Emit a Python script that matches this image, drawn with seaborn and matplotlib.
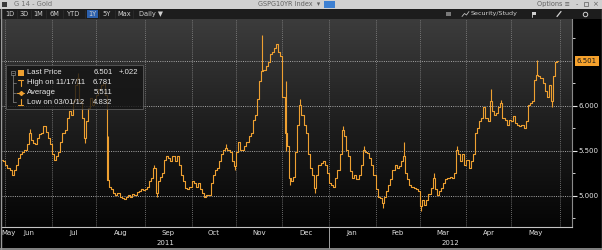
import matplotlib
matplotlib.use("Agg")
import numpy as np
import pandas as pd
import matplotlib.pyplot as plt
from matplotlib.patches import Rectangle
from matplotlib.colors import LinearSegmentedColormap
import seaborn as sns

sns.set_theme(style="dark")
plt.rcParams['font.family'] = ['DejaVu Sans']

# ---------------- data (daily closes, GSPG10YR Index) ----------------
may11 = [5.40, 5.38]
jun11 = [5.34, 5.31, 5.29, 5.23, 5.29, 5.34, 5.42, 5.46, 5.49, 5.51, 5.57,
         5.70, 5.62, 5.59, 5.57, 5.64, 5.68, 5.70, 5.77, 5.71, 5.64, 5.57]
jul11 = [5.46, 5.40, 5.44, 5.49, 5.60, 5.70, 5.73, 5.86, 5.94, 5.90, 6.05,
         6.23, 6.31, 6.05, 5.86, 5.64, 5.83, 5.97, 6.09, 6.01, 6.07]
aug11 = [6.12, 6.18, 6.23, 6.25, 6.12, 5.17, 5.10, 5.07, 5.03, 5.01, 5.03,
         4.99, 4.97, 4.96, 4.99, 5.01, 4.99, 5.02, 5.01, 5.04, 5.05, 5.07, 5.06]
sep11 = [5.07, 5.10, 5.16, 5.20, 5.31, 5.03, 5.16, 5.21, 5.25, 5.40, 5.44,
         5.42, 5.38, 5.44, 5.38, 5.44, 5.34, 5.23, 5.16, 5.09, 5.07, 5.10]
oct11 = [5.16, 5.14, 5.10, 5.14, 5.07, 5.03, 4.99, 5.01, 5.01, 5.14, 5.23,
         5.29, 5.31, 5.38, 5.46, 5.51, 5.53, 5.51, 5.49, 5.38, 5.33]
nov11 = [5.49, 5.60, 5.51, 5.51, 5.55, 5.60, 5.66, 5.70, 5.84, 5.90, 6.07,
         6.27, 6.38, 6.40, 6.44, 6.49, 6.57, 6.60, 6.64, 6.68, 6.60, 6.55]
dec11 = [6.10, 5.70, 5.55, 5.20, 5.16, 5.21, 5.49, 5.79, 6.01, 5.90, 5.79,
         5.70, 5.46, 5.31, 5.23, 5.09, 5.23, 5.34, 5.36, 5.38, 5.34, 5.25]
jan12 = [5.14, 5.12, 5.10, 5.20, 5.29, 5.46, 5.73, 5.66, 5.51, 5.44, 5.27,
         5.20, 5.23, 5.18, 5.23, 5.34, 5.51, 5.49, 5.47, 5.42, 5.34, 5.23]
feb12 = [5.07, 4.99, 4.97, 4.92, 4.99, 5.05, 5.12, 5.18, 5.29, 5.34, 5.31,
         5.33, 5.38, 5.44, 5.25, 5.18, 5.12, 5.10, 5.09, 5.07, 5.05]
mar12 = [4.88, 4.95, 4.90, 4.95, 5.02, 5.09, 5.20, 5.07, 5.01, 5.05, 5.09,
         5.14, 5.18, 5.20, 5.21, 5.20, 5.25, 5.51, 5.46, 5.38, 5.46, 5.34]
apr12 = [5.40, 5.31, 5.38, 5.46, 5.70, 5.75, 5.83, 5.86, 5.99, 5.86, 5.83,
         6.05, 5.94, 5.90, 5.92, 5.99, 6.03, 5.86, 5.84, 5.79, 5.84]
may12 = [5.83, 5.88, 5.81, 5.79, 5.77, 5.79, 5.75, 5.83, 6.01, 6.03, 6.05,
         6.29, 6.34, 6.33, 6.31, 6.25, 6.16, 6.10, 6.23, 6.05, 6.33, 6.48, 6.50]

# intraday extremes that stick out of the close-to-close steps (day index -> value)
spike_day = [13, 36, 39, 50, 72, 73, 106, 110, 123, 134, 134, 136, 141, 148,
             161, 171, 180, 190, 198, 204, 215, 231, 236, 253, 260]
spike_val = [5.74, 6.36, 5.58, 5.66, 5.34, 4.99, 5.57, 5.29, 6.781, 6.27, 5.50,
             5.12, 6.07, 5.03, 5.77, 5.55, 4.86, 5.60, 4.832, 5.25, 5.55, 6.18,
             6.06, 6.51, 5.99]

legend_rows = ["Last Price", "High on 11/17/11", "Average", "Low on 03/01/12"]
legend_vals = ["6.501", "6.781", "5.511", "4.832"]
last_change = "+.022"
last_label = "6.501"
y_ticks = [5.0, 5.5, 6.0]
y_minor = [4.75, 5.25, 5.75, 6.25, 6.75]
buttons = ['1D', '3D', '1M', '6M', 'YTD', '1Y', '5Y', 'Max', 'Daily \u25BC']

close = np.array(may11 + jun11 + jul11 + aug11 + sep11 + oct11 + nov11 +
                 dec11 + jan12 + feb12 + mar12 + apr12 + may12)
dates = pd.bdate_range("2011-05-30", "2012-05-31")
n = min(len(close), len(dates))
close = close[:n]
dates = dates[:n]
idx = np.arange(n)
df = pd.DataFrame({"i": idx, "close": close})

ORANGE = '#eea031'
W, H = 602, 250
fig = plt.figure(figsize=(W / 100, H / 100), dpi=100)
fig.patch.set_facecolor('black')

AX_L, AX_R, AX_T, AX_B = 1, 572, 19, 227
ax = fig.add_axes([AX_L / W, 1 - AX_B / H, (AX_R - AX_L) / W, (AX_B - AX_T) / H])
XMIN, XMAX = -0.57, 269.4
YMIN, YMAX = 4.652, 6.963


def px(i):
    return AX_L + (i - XMIN) / (XMAX - XMIN) * (AX_R - AX_L)


def py(v):
    return AX_B - (v - YMIN) / (YMAX - YMIN) * (AX_B - AX_T)


# gradient background
grad = np.linspace(0, 1, 256).reshape(-1, 1)
cmap = LinearSegmentedColormap.from_list('bg', ['#3c3c3c', '#1e1e1e', '#050505'])
ax.imshow(grad, extent=(XMIN, XMAX, YMIN, YMAX), origin='upper', aspect='auto',
          cmap=cmap, zorder=0)

# grid
for v in [5.0, 5.5, 6.0, 6.5]:
    ax.axhline(v, color='#a8a8a8', lw=0.7, ls=(0, (1, 1.3)), zorder=1)
months = sorted(set(zip(dates.year, dates.month)))
month_first = [int(np.where((dates.year == y) & (dates.month == m))[0][0])
               for (y, m) in months]
bounds = [f - 0.5 for f in month_first[1:]] + [n - 0.5]
for b in bounds:
    ax.axvline(b, color='#8c8c8c', lw=0.6, ls=(0, (1, 1.5)), zorder=1)

# price series
sns.lineplot(data=df, x='i', y='close', drawstyle='steps-mid', color=ORANGE,
             lw=0.8, estimator=None, legend=False, ax=ax, zorder=3)
sd = np.array(spike_day)
sv = np.array(spike_val)
ax.vlines(sd, close[sd], sv, color=ORANGE, lw=0.8, zorder=3)

ax.set_xlim(XMIN, XMAX)
ax.set_ylim(YMIN, YMAX)
ax.set_xlabel('')
ax.set_ylabel('')
ax.grid(False)
ax.set_xticks([])
ax.yaxis.tick_right()
ax.set_yticks(y_ticks)
ax.set_yticklabels([f"{t:.3f}" for t in y_ticks])
ax.set_yticks(y_minor, minor=True)
ax.tick_params(axis='y', which='major', colors='#e6e6e6', length=3.5, width=0.8,
               labelsize=5, pad=1.5, right=True, left=False)
ax.tick_params(axis='y', which='minor', colors='#cfcfcf', length=2, width=0.7,
               right=True, left=False)
for s in ['top', 'left']:
    ax.spines[s].set_visible(False)
ax.spines['bottom'].set_color('#c4c4c4')
ax.spines['bottom'].set_linewidth(0.8)
ax.spines['right'].set_color('#8a8a8a')
ax.spines['right'].set_linewidth(0.8)

# ---------------- overlay chrome ----------------
ov = fig.add_axes([0, 0, 1, 1])
ov.set_xlim(0, W)
ov.set_ylim(H, 0)
ov.axis('off')
ov.patch.set_alpha(0)

# title bar
ov.add_patch(Rectangle((0, 0), W, 8.5, fc='#d0d0d0', ec='none'))
ov.add_patch(Rectangle((1.5, 1.5), 5, 5, fc='#3a3a3a', ec='none'))
ov.text(14, 4.4, "G 14 - Gold", fontsize=4.9, color='#707070', va='center')
ov.text(258, 4.4, "GSPG10YR Index  \u25BE", fontsize=4.7, color='#606060', va='center')
ov.add_patch(Rectangle((324, 0.8), 11, 7, fc='#3d80d2', ec='none'))
ov.text(537, 4.4, "Options \u2261", fontsize=4.7, color='#606060', va='center')
ov.text(576, 4.4, "-", fontsize=4.7, color='#606060', va='center')
ov.add_patch(Rectangle((583.5, 2.2), 4, 4, fc='none', ec='#707070', lw=0.6))
ov.text(592, 4.4, "\u00D7", fontsize=5, color='#606060', va='center')

# toolbar
ov.add_patch(Rectangle((0, 8.5), W, 10.5, fc='#1d1d1d', ec='none'))
centers = [10, 24, 38, 54, 74, 92, 107, 124, 151]
ov.add_patch(Rectangle((86.5, 9.6), 11.5, 8.3, fc='#2c60ad', ec='none'))
for c, b in zip(centers, buttons):
    ov.text(c, 14, b, fontsize=4.8, color='#d0d0d0', ha='center', va='center')
for sx in [17, 31, 46, 63, 85, 99, 115, 133]:
    ov.plot([sx, sx], [10, 18], color='#333333', lw=0.4)
ov.add_patch(Rectangle((446, 11.5), 4.5, 4.5, fc='#7a7a7a', ec='none'))
ov.plot([462, 464.5, 466.5, 469], [16.5, 13.5, 15, 11.5], color='#bdbdbd', lw=0.6)
ov.text(471, 14, "Security/Study", fontsize=4.6, color='#d0d0d0', va='center')
ov.add_patch(Rectangle((532, 11.5), 3.5, 3, fc='#d0d0d0', ec='none'))
ov.plot([532, 532], [11.5, 17], color='#d0d0d0', lw=0.6)
ov.plot([557, 561], [16.5, 11.5], color='#d0d0d0', lw=0.9)
ov.plot([585], [14], marker='o', ms=3.2, mfc='none', mec='#d0d0d0', mew=0.7)

# legend box
ov.add_patch(Rectangle((6, 64.5), 137, 44.5, fc='#141414', alpha=0.8, ec='none'))
ov.add_patch(Rectangle((6, 64.5), 137, 44.5, fc='none', ec='#5c5c5c', lw=0.6))
row_y = [73, 82.8, 92.5, 102]
ov.plot([13, 13], [75, 102], color='#8a8a8a', lw=0.5)
for yy in row_y[1:]:
    ov.plot([13, 16], [yy, yy], color='#8a8a8a', lw=0.5)
ov.add_patch(Rectangle((11, 71), 4, 4, fc='#141414', ec='#8a8a8a', lw=0.5))
ov.plot([11.8, 14.2], [73, 73], color='#8a8a8a', lw=0.5)
ov.add_patch(Rectangle((17.5, 70), 6, 6, fc=ORANGE, ec='none'))
ov.plot([18, 23], [79.8, 79.8], color=ORANGE, lw=0.8)
ov.plot([20.5, 20.5], [79.8, 86], color=ORANGE, lw=0.8)
ov.plot([17, 24], [92.5, 92.5], color=ORANGE, lw=0.8)
ov.plot([20.5], [92.5], marker='D', ms=2, color=ORANGE)
ov.plot([20.5, 20.5], [99, 105], color=ORANGE, lw=0.8)
ov.plot([18, 23], [105, 105], color=ORANGE, lw=0.8)
LF = ['Liberation Sans', 'DejaVu Sans']
for yy, lab, val in zip(row_y, legend_rows, legend_vals):
    ov.text(27, yy, lab, fontsize=5.6, color='#e8e8e8', va='center', family=LF)
    ov.text(112.5, yy, val, fontsize=5.6, color='#e8e8e8', va='center', ha='right',
            family=LF)
ov.text(119, row_y[0], last_change, fontsize=5.6, color='#e8e8e8', va='center',
        family=LF)

# last price tag on the axis
yl = py(close[-1])
ov.add_patch(Rectangle((574.5, yl - 5), 24.5, 10, fc='#f5a12c', ec='none'))
ov.text(586.8, yl + 0.3, last_label, fontsize=5, color='#1a1a1a',
        ha='center', va='center')

# month labels
for k, (y, m) in enumerate(months):
    sel = np.where((dates.year == y) & (dates.month == m))[0]
    name = pd.Timestamp(year=y, month=m, day=1).strftime('%b')
    if len(sel) < 5:
        ov.text(1.5, 233, name, fontsize=5, color='#e0e0e0', ha='left', va='center')
    else:
        ov.text(px(sel.mean()), 233, name, fontsize=5, color='#e0e0e0',
                ha='center', va='center')
jan_b = month_first[months.index((2012, 1))] - 0.5
ov.text(px((XMIN + jan_b) / 2), 243, "2011", fontsize=5, color='#e0e0e0',
        ha='center', va='center')
ov.text(px((jan_b + XMAX) / 2), 243, "2012", fontsize=5, color='#e0e0e0',
        ha='center', va='center')
ov.plot([px(jan_b), px(jan_b)], [227, 248], color='#b8b8b8', lw=0.6)

# window border
ov.plot([0.5, 0.5], [8.5, 249], color='#9a9a9a', lw=1)
ov.plot([0, W], [248.8, 248.8], color='#9a9a9a', lw=1.2)
ov.plot([601.5, 601.5], [8.5, 249], color='#9a9a9a', lw=1)

fig.savefig("out.png", dpi=100, facecolor=fig.get_facecolor())
